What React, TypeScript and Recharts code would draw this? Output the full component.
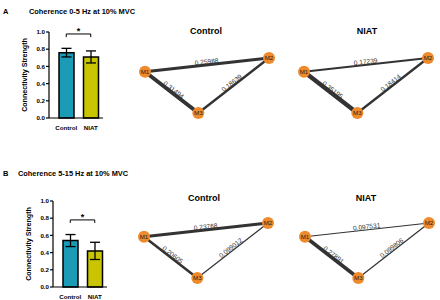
import React from 'react';
import {
  BarChart, Bar, Cell, XAxis, YAxis, ErrorBar, ReferenceLine, Label,
  ScatterChart, Scatter,
} from 'recharts';

// ---------- data ----------
const groups = ['Control', 'NIAT'];
const groupColors = ['#1B9BB6', '#C9C502'];
const meanA = [0.76, 0.71];
const errA = [0.05, 0.07];
const meanB = [0.54, 0.42];
const errB = [0.07, 0.10];
const yTicks = [0, 0.2, 0.4, 0.6, 0.8, 1.0];
const bracketA = [0.94, 0.977];
const bracketB = [0.745, 0.78];

const nodeNames = ['M1', 'M2', 'M3'];
const nodeX = [0, 1, 0.43];
const nodeY = [0.75, 1, 0];
const edgePairs: [number, number][] = [[0, 1], [0, 2], [1, 2]];
const wACtrl = ['0.25988', '0.31494', '0.18639'];
const wANiat = ['0.17239', '0.35195', '0.18414'];
const wBCtrl = ['0.23768', '0.20605', '0.099012'];
const wBNiat = ['0.097531', '0.27891', '0.099806'];

const FONT = "'Liberation Sans', Arial, Helvetica, sans-serif";

const T = ({ x, y, size, children, anchor = 'middle', bold = true }: any) => (
  <div
    style={{
      position: 'absolute', left: x, top: y,
      transform: `translate(${anchor === 'middle' ? '-50%' : '0'}, -50%)`,
      fontSize: size, fontWeight: bold ? 700 : 400, whiteSpace: 'nowrap',
      lineHeight: 1, fontFamily: FONT, color: '#000',
    }}
  >
    {children}
  </div>
);

function BarPanel({ means, errs, bracket, left, top }: any) {
  const data = groups.map((g, i) => ({ name: g, mean: means[i], err: errs[i] }));
  const tickStyle = { fontSize: 6.2, fontWeight: 700, fill: '#000', fontFamily: FONT };
  return (
    <div style={{ position: 'absolute', left, top }}>
      <BarChart width={110} height={140} data={data} margin={{ top: 32, right: 7, bottom: 0, left: 0 }}>
        <XAxis
          dataKey="name" height={22} interval={0} tickLine={false}
          axisLine={{ stroke: '#000', strokeWidth: 1.2 }}
          tick={tickStyle} padding={{ left: 5, right: 0 }}
        />
        <YAxis
          type="number" domain={[0, 1]} ticks={yTicks} width={49} tickSize={3} tickMargin={1}
          tickFormatter={(v: number) => v.toFixed(1)}
          axisLine={{ stroke: '#000', strokeWidth: 1.2 }} tickLine={{ stroke: '#000', strokeWidth: 1.2 }}
          tick={tickStyle}
        >
          <Label
            value="Connectivity Strength" angle={-90} position="center"
            style={{ fontSize: 7.1, fontWeight: 700, fill: '#000', fontFamily: FONT }}
          />
        </YAxis>
        <Bar dataKey="mean" barSize={15} stroke="#000" strokeWidth={1.5} isAnimationActive={false}>
          {data.map((d, i) => <Cell key={i} fill={groupColors[i]} />)}
          <ErrorBar dataKey="err" width={5} stroke="#000" strokeWidth={1.3} />
        </Bar>
        <ReferenceLine
          segment={[{ x: groups[0], y: bracket[1] }, { x: groups[1], y: bracket[1] }]}
          stroke="#000" strokeWidth={1}
          label={{ value: '*', position: 'top', offset: 0, style: { fontSize: 9, fontWeight: 700, fill: '#000', fontFamily: FONT } }}
        />
        <ReferenceLine segment={[{ x: groups[0], y: bracket[0] }, { x: groups[0], y: bracket[1] }]} stroke="#000" strokeWidth={1} />
        <ReferenceLine segment={[{ x: groups[1], y: bracket[0] }, { x: groups[1], y: bracket[1] }]} stroke="#000" strokeWidth={1} />
      </BarChart>
    </div>
  );
}

function Edge({ points, label }: any) {
  let [a, b] = points;
  if (b.x < a.x) [a, b] = [b, a];
  const ang = (Math.atan2(b.y - a.y, b.x - a.x) * 180) / Math.PI;
  const mx = (a.x + b.x) / 2;
  const my = (a.y + b.y) / 2;
  const w = parseFloat(label) * 12.5;
  return (
    <g>
      <line x1={a.x} y1={a.y} x2={b.x} y2={b.y} stroke="#333" strokeWidth={w} />
      <text
        x={mx} y={my} dy={-1} transform={`rotate(${ang} ${mx} ${my})`}
        textAnchor="middle" fontSize={6.6} fill="#333" fontFamily={FONT}
      >
        {label}
      </text>
    </g>
  );
}

const NodeShape = (props: any) => (
  <g>
    <circle cx={props.cx} cy={props.cy} r={6} fill="#EE8A2B" />
    <text
      x={props.cx} y={props.cy} dy={2.1} textAnchor="middle" fontSize={6.2}
      fill="#222" fontFamily={FONT}
    >
      {props.payload.name}
    </text>
  </g>
);

function Network({ weights, left, top }: any) {
  const nodes = nodeNames.map((n, i) => ({ x: nodeX[i], y: nodeY[i], name: n }));
  return (
    <div style={{ position: 'absolute', left, top }}>
      <ScatterChart width={160} height={80} margin={{ top: 12, right: 21, bottom: 13, left: 15 }}>
        <XAxis type="number" dataKey="x" domain={[0, 1]} hide />
        <YAxis type="number" dataKey="y" domain={[0, 1]} hide />
        {edgePairs.map(([a, b], k) => (
          <Scatter
            key={k} data={[nodes[a], nodes[b]]} isAnimationActive={false}
            fill="#333" shape={() => <g />}
            line={(p: any) => <Edge points={p.points} label={weights[k]} />}
          />
        ))}
        <Scatter data={nodes} isAnimationActive={false} shape={NodeShape} />
      </ScatterChart>
    </div>
  );
}

export default function App() {
  return (
    <div
      style={{
        position: 'fixed', left: 0, top: 0, width: 440, height: 300,
        background: '#fff', overflow: 'hidden', fontFamily: FONT,
      }}
    >
      <T x={3} y={12} size={7.5} anchor="start">A</T>
      <T x={29} y={12} size={7.4} anchor="start">Coherence 0-5 Hz at 10% MVC</T>
      <T x={3} y={174} size={7.5} anchor="start">B</T>
      <T x={18} y={174} size={7.4} anchor="start">Coherence 5-15 Hz at 10% MVC</T>

      <T x={206} y={31} size={9}>Control</T>
      <T x={367} y={31} size={9}>NIAT</T>
      <T x={204} y={198} size={9}>Control</T>
      <T x={366} y={198} size={9}>NIAT</T>

      <BarPanel means={meanA} errs={errA} bracket={bracketA} left={0} top={0} />
      <BarPanel means={meanB} errs={errB} bracket={bracketB} left={4} top={169} />

      <Network weights={wACtrl} left={130} top={46} />
      <Network weights={wANiat} left={289} top={46} />
      <Network weights={wBCtrl} left={129} top={211} />
      <Network weights={wBNiat} left={290} top={211} />
    </div>
  );
}
